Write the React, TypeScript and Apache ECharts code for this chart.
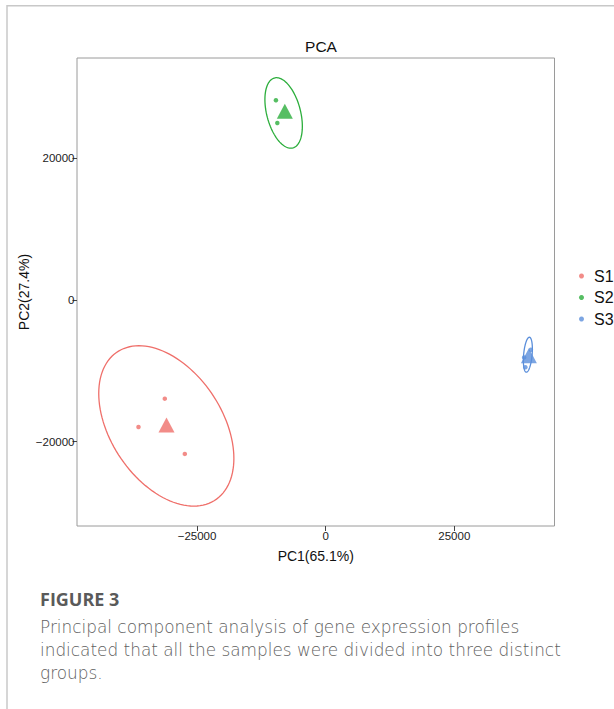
import React, { useEffect, useRef } from "react";
import * as echarts from "echarts";

// ---- data ----
const groups = ["S1", "S2", "S3"];
const colors = ["#EF6F6A", "#2CAE3C", "#5B8FDB"];

const s1Points = [[-31265, -13944], [-36381, -17930], [-27374, -21733]];
const s2Points = [[-9669, 28128], [-9397, 24930]];
const s3Points = [[38579, -8127], [38812, -9507], [39883, -7043]];

const s1Centroid = [[-30934, -17648]];
const s2Centroid = [[-7938, 26579]];
const s3Centroid = [[39494, -7888]];

// ellipse: centre x, centre y, semi-axis u (x, y), semi-axis v (x, y) in data units
const s1Ellipse = [-30972, -17789, 13132, -4578, 0, 10338];
const s2Ellipse = [-8171, 26339, 3638, -1887, 0, 4599];
const s3Ellipse = [39299, -7747, 875, 817, 0, 2324];

const xTicks = [-25000, 0, 25000];
const yTicks = [-20000, 0, 20000];
const xRange = [-48330, 44475];
const yRange = [-31898, 34087];

const captionTitle = "FIGURE 3";
const captionLines = [
  "Principal component analysis of gene expression profiles",
  "indicated that all the samples were divided into three distinct",
  "groups.",
];

const fmt = (v: number) => (v < 0 ? "\u2212" + Math.abs(v) : String(v));

export default function App() {
  const ref = useRef<HTMLDivElement>(null);
  useEffect(() => {
    if (!ref.current) return;
    const chart = echarts.init(ref.current, undefined, { renderer: "svg" });
    const pts = [s1Points, s2Points, s3Points];
    const cents = [s1Centroid, s2Centroid, s3Centroid];
    const ells = [s1Ellipse, s2Ellipse, s3Ellipse];
    const series: any[] = [];
    groups.forEach((g, i) => {
      series.push({
        type: "scatter",
        name: g,
        data: pts[i],
        symbol: "circle",
        symbolSize: 4.5,
        itemStyle: { color: colors[i] },
        z: 3,
      });
    });
    groups.forEach((g, i) => {
      series.push({
        type: "custom",
        name: g,
        data: [ells[i]],
        itemStyle: { color: colors[i] },
        renderItem: (params: any, api: any) => {
          const cx = api.value(0), cy = api.value(1);
          const ux = api.value(2), uy = api.value(3);
          const vx = api.value(4), vy = api.value(5);
          const points: number[][] = [];
          const n = 120;
          for (let k = 0; k <= n; k++) {
            const t = (k / n) * Math.PI * 2;
            const c = Math.cos(t), s = Math.sin(t);
            points.push(api.coord([cx + ux * c + vx * s, cy + uy * c + vy * s]));
          }
          return {
            type: "polyline",
            shape: { points },
            style: { stroke: colors[i], lineWidth: 1.3, fill: null },
          };
        },
        z: 2,
      });
      series.push({
        type: "scatter",
        name: g,
        data: cents[i],
        symbol: "triangle",
        symbolSize: [16, 15],
        itemStyle: { color: colors[i] },
        z: 4,
      });
    });

    const captionTexts = captionLines.map((line, k) => ({
      type: "text",
      left: 40,
      top: 618 + k * 23,
      style: {
        text: line,
        fontFamily: "DejaVu Sans",
        fontWeight: 200,
        fontSize: 16.9,
        fill: "#606060",
      },
    }));

    chart.setOption({
      animation: false,
      backgroundColor: "#fff",
      title: {
        text: "PCA",
        left: 316,
        top: 33,
        textAlign: "center",
        textStyle: { fontFamily: "Liberation Sans", fontSize: 15.5, fontWeight: "normal", color: "#111" },
      },
      grid: {
        left: 77,
        top: 58,
        right: 59.5,
        bottom: 183,
        show: true,
        borderColor: "#9a9a9a",
        borderWidth: 1,
        backgroundColor: "#fff",
      },
      legend: {
        orient: "vertical",
        left: 574,
        top: 263,
        data: groups.map((g) => ({ name: g, icon: "circle" })),
        itemWidth: 5,
        itemHeight: 5,
        itemGap: 5.5,
        selectedMode: false,
        textStyle: {
          fontFamily: "Liberation Sans",
          fontSize: 16,
          lineHeight: 16,
          color: "#111",
          padding: [0, 0, 0, 5],
        },
      },
      xAxis: {
        type: "value",
        min: xRange[0],
        max: xRange[1],
        name: "PC1(65.1%)",
        nameLocation: "middle",
        nameGap: 23,
        nameMoveOverlap: false,
        nameTextStyle: { fontFamily: "Liberation Sans", fontSize: 14, color: "#111" },
        axisLine: { show: false, onZero: false },
        splitLine: { show: false },
        axisTick: { show: true, length: 5, customValues: xTicks, lineStyle: { color: "#444" } },
        axisLabel: {
          customValues: xTicks,
          formatter: fmt,
          margin: 4,
          fontFamily: "Liberation Sans",
          fontSize: 11.5,
          color: "#222",
        },
      },
      yAxis: {
        type: "value",
        min: yRange[0],
        max: yRange[1],
        name: "PC2(27.4%)",
        nameLocation: "middle",
        nameGap: 46,
        nameMoveOverlap: false,
        nameTextStyle: { fontFamily: "Liberation Sans", fontSize: 14, color: "#111" },
        axisLine: { show: false, onZero: false },
        splitLine: { show: false },
        axisTick: { show: true, length: 4.5, customValues: yTicks, lineStyle: { color: "#444" } },
        axisLabel: {
          customValues: yTicks,
          formatter: fmt,
          margin: 2.5,
          fontFamily: "Liberation Sans",
          fontSize: 11.5,
          color: "#222",
        },
      },
      graphic: [
        { type: "line", shape: { x1: 7, y1: 5.7, x2: 614, y2: 5.7 }, style: { stroke: "#c8c8c8", lineWidth: 1.5 } },
        { type: "line", shape: { x1: 7, y1: 5, x2: 7, y2: 709 }, style: { stroke: "#c8c8c8", lineWidth: 1.5 } },
        {
          type: "text",
          left: 40,
          top: 590,
          style: {
            text: captionTitle,
            fontFamily: "Open Sans",
            fontWeight: "bold",
            fontSize: 18,
            fill: "#5a5a5a",
          },
        },
        ...captionTexts,
      ],
      series,
    });
    return () => chart.dispose();
  }, []);
  return (
    <div
      ref={ref}
      style={{ position: "absolute", left: 0, top: 0, width: 614, height: 709 }}
    />
  );
}
